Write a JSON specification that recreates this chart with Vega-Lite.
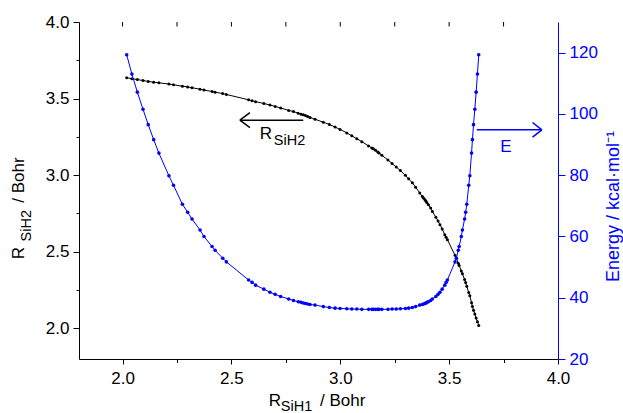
{
  "$schema": "https://vega.github.io/schema/vega-lite/v6.json",
  "width": 479,
  "height": 337,
  "autosize": {"type": "none"},
  "padding": {"left": 79, "top": 22, "right": 65, "bottom": 54},
  "config": {
    "view": {"stroke": null},
    "font": "Liberation Sans",
    "axis": {"grid": false, "labelFont": "Liberation Sans", "labelFontSize": 17, "labelColor": "black", "tickColor": "black", "domainColor": "black", "tickWidth": 1, "domainWidth": 1, "labelFlush": false, "labelOverlap": false, "labelBound": false, "titleFont": "Liberation Sans", "titleFontWeight": "normal"}
  },
  "datasets": {
    "path": [
      {"i": 1, "R1": 2.019, "R2": 3.636, "E": 119.3},
      {"i": 2, "R1": 2.043, "R2": 3.630, "E": 113.0},
      {"i": 3, "R1": 2.068, "R2": 3.624, "E": 107.1},
      {"i": 4, "R1": 2.094, "R2": 3.618, "E": 101.5},
      {"i": 5, "R1": 2.118, "R2": 3.612, "E": 96.5},
      {"i": 6, "R1": 2.143, "R2": 3.607, "E": 91.6},
      {"i": 7, "R1": 2.167, "R2": 3.603, "E": 87.2},
      {"i": 8, "R1": 2.213, "R2": 3.595, "E": 79.8},
      {"i": 9, "R1": 2.234, "R2": 3.590, "E": 76.7},
      {"i": 10, "R1": 2.275, "R2": 3.581, "E": 70.5},
      {"i": 11, "R1": 2.299, "R2": 3.576, "E": 67.9},
      {"i": 12, "R1": 2.319, "R2": 3.571, "E": 65.7},
      {"i": 13, "R1": 2.356, "R2": 3.561, "E": 62.1},
      {"i": 14, "R1": 2.374, "R2": 3.556, "E": 60.0},
      {"i": 15, "R1": 2.411, "R2": 3.546, "E": 56.7},
      {"i": 16, "R1": 2.425, "R2": 3.542, "E": 55.5},
      {"i": 17, "R1": 2.460, "R2": 3.533, "E": 52.9},
      {"i": 18, "R1": 2.477, "R2": 3.527, "E": 51.7},
      {"i": 19, "R1": 2.579, "R2": 3.492, "E": 45.8},
      {"i": 20, "R1": 2.595, "R2": 3.486, "E": 45.0},
      {"i": 21, "R1": 2.611, "R2": 3.480, "E": 44.1},
      {"i": 22, "R1": 2.649, "R2": 3.468, "E": 42.8},
      {"i": 23, "R1": 2.677, "R2": 3.458, "E": 41.8},
      {"i": 24, "R1": 2.701, "R2": 3.449, "E": 41.1},
      {"i": 25, "R1": 2.726, "R2": 3.439, "E": 40.4},
      {"i": 26, "R1": 2.763, "R2": 3.423, "E": 39.6},
      {"i": 27, "R1": 2.785, "R2": 3.415, "E": 39.1},
      {"i": 28, "R1": 2.807, "R2": 3.405, "E": 38.7},
      {"i": 29, "R1": 2.820, "R2": 3.398, "E": 38.5},
      {"i": 30, "R1": 2.830, "R2": 3.394, "E": 38.3},
      {"i": 31, "R1": 2.840, "R2": 3.389, "E": 38.1},
      {"i": 32, "R1": 2.850, "R2": 3.383, "E": 37.95},
      {"i": 33, "R1": 2.861, "R2": 3.377, "E": 37.8},
      {"i": 34, "R1": 2.884, "R2": 3.365, "E": 37.6},
      {"i": 35, "R1": 2.922, "R2": 3.346, "E": 37.1},
      {"i": 36, "R1": 2.950, "R2": 3.331, "E": 36.8},
      {"i": 37, "R1": 2.976, "R2": 3.314, "E": 36.6},
      {"i": 38, "R1": 2.999, "R2": 3.299, "E": 36.5},
      {"i": 39, "R1": 3.030, "R2": 3.276, "E": 36.4},
      {"i": 40, "R1": 3.053, "R2": 3.257, "E": 36.3},
      {"i": 41, "R1": 3.076, "R2": 3.238, "E": 36.3},
      {"i": 42, "R1": 3.099, "R2": 3.219, "E": 36.2},
      {"i": 43, "R1": 3.130, "R2": 3.191, "E": 36.2},
      {"i": 44, "R1": 3.145, "R2": 3.178, "E": 36.2},
      {"i": 45, "R1": 3.152, "R2": 3.172, "E": 36.2},
      {"i": 46, "R1": 3.162, "R2": 3.162, "E": 36.2},
      {"i": 47, "R1": 3.172, "R2": 3.152, "E": 36.2},
      {"i": 48, "R1": 3.178, "R2": 3.145, "E": 36.2},
      {"i": 49, "R1": 3.191, "R2": 3.130, "E": 36.2},
      {"i": 50, "R1": 3.219, "R2": 3.099, "E": 36.2},
      {"i": 51, "R1": 3.238, "R2": 3.076, "E": 36.3},
      {"i": 52, "R1": 3.257, "R2": 3.053, "E": 36.3},
      {"i": 53, "R1": 3.276, "R2": 3.030, "E": 36.4},
      {"i": 54, "R1": 3.299, "R2": 2.999, "E": 36.5},
      {"i": 55, "R1": 3.314, "R2": 2.976, "E": 36.6},
      {"i": 56, "R1": 3.331, "R2": 2.950, "E": 36.8},
      {"i": 57, "R1": 3.346, "R2": 2.922, "E": 37.1},
      {"i": 58, "R1": 3.365, "R2": 2.884, "E": 37.6},
      {"i": 59, "R1": 3.377, "R2": 2.861, "E": 37.8},
      {"i": 60, "R1": 3.383, "R2": 2.850, "E": 37.95},
      {"i": 61, "R1": 3.389, "R2": 2.840, "E": 38.1},
      {"i": 62, "R1": 3.394, "R2": 2.830, "E": 38.3},
      {"i": 63, "R1": 3.398, "R2": 2.820, "E": 38.5},
      {"i": 64, "R1": 3.405, "R2": 2.807, "E": 38.7},
      {"i": 65, "R1": 3.415, "R2": 2.785, "E": 39.1},
      {"i": 66, "R1": 3.423, "R2": 2.763, "E": 39.6},
      {"i": 67, "R1": 3.439, "R2": 2.726, "E": 40.4},
      {"i": 68, "R1": 3.449, "R2": 2.701, "E": 41.1},
      {"i": 69, "R1": 3.458, "R2": 2.677, "E": 41.8},
      {"i": 70, "R1": 3.468, "R2": 2.649, "E": 42.8},
      {"i": 71, "R1": 3.480, "R2": 2.611, "E": 44.1},
      {"i": 72, "R1": 3.486, "R2": 2.595, "E": 45.0},
      {"i": 73, "R1": 3.492, "R2": 2.579, "E": 45.8},
      {"i": 74, "R1": 3.527, "R2": 2.477, "E": 51.7},
      {"i": 75, "R1": 3.533, "R2": 2.460, "E": 52.9},
      {"i": 76, "R1": 3.542, "R2": 2.425, "E": 55.5},
      {"i": 77, "R1": 3.546, "R2": 2.411, "E": 56.7},
      {"i": 78, "R1": 3.556, "R2": 2.374, "E": 60.0},
      {"i": 79, "R1": 3.561, "R2": 2.356, "E": 62.1},
      {"i": 80, "R1": 3.571, "R2": 2.319, "E": 65.7},
      {"i": 81, "R1": 3.576, "R2": 2.299, "E": 67.9},
      {"i": 82, "R1": 3.581, "R2": 2.275, "E": 70.5},
      {"i": 83, "R1": 3.590, "R2": 2.234, "E": 76.7},
      {"i": 84, "R1": 3.595, "R2": 2.213, "E": 79.8},
      {"i": 85, "R1": 3.603, "R2": 2.167, "E": 87.2},
      {"i": 86, "R1": 3.607, "R2": 2.143, "E": 91.6},
      {"i": 87, "R1": 3.612, "R2": 2.118, "E": 96.5},
      {"i": 88, "R1": 3.618, "R2": 2.094, "E": 101.5},
      {"i": 89, "R1": 3.624, "R2": 2.068, "E": 107.1},
      {"i": 90, "R1": 3.630, "R2": 2.043, "E": 113.0},
      {"i": 91, "R1": 3.636, "R2": 2.019, "E": 119.3}
    ]
  },
  "resolve": {"scale": {"y": "independent"}},
  "layer": [
    {
      "layer": [
        {
          "data": {"name": "path"},
          "mark": {"type": "line", "color": "black", "strokeWidth": 1, "point": {"filled": true, "size": 9, "color": "black"}},
          "encoding": {
            "x": {"field": "R1", "type": "quantitative", "scale": {"domain": [1.8, 4.0], "nice": false, "zero": false},
                  "axis": {"orient": "bottom", "values": [2.0, 2.25, 2.5, 2.75, 3.0, 3.25, 3.5, 3.75, 4.0],
                           "labelExpr": "abs(datum.value*2 - round(datum.value*2)) < 0.01 ? format(datum.value, '.1f') : ''",
                           "tickSize": {"condition": {"test": "abs(datum.value*2 - round(datum.value*2)) < 0.01", "value": 5}, "value": 3.5},
                           "labelPadding": 6, "title": null}},
            "y": {"field": "R2", "type": "quantitative", "scale": {"domain": [1.8, 4.0], "nice": false, "zero": false},
                  "axis": {"orient": "left", "values": [2.0, 2.25, 2.5, 2.75, 3.0, 3.25, 3.5, 3.75, 4.0],
                           "labelExpr": "abs(datum.value*2 - round(datum.value*2)) < 0.01 ? format(datum.value, '.1f') : ''",
                           "tickSize": {"condition": {"test": "abs(datum.value*2 - round(datum.value*2)) < 0.01", "value": 6}, "value": 3},
                           "labelPadding": 4, "title": null}},
            "order": {"field": "i", "type": "quantitative"}
          }
        },
        {
          "mark": {"type": "rule", "color": "black", "strokeWidth": 1},
          "encoding": {
            "x": {"datum": 1.8, "type": "quantitative"},
            "x2": {"datum": 4.0},
            "y": {"datum": 4.0, "type": "quantitative"}
          }
        },
        {
          "data": {"values": [{"v": 2.0}, {"v": 2.25}, {"v": 2.5}, {"v": 2.75}, {"v": 3.0}, {"v": 3.25}, {"v": 3.5}, {"v": 3.75}]},
          "mark": {"type": "tick", "orient": "vertical", "color": "black", "size": 4.5, "thickness": 1, "yOffset": 2.25, "opacity": 1},
          "encoding": {
            "x": {"field": "v", "type": "quantitative"},
            "y": {"datum": 4.0, "type": "quantitative"}
          }
        },
        {
          "data": {"values": [
            {"a": 2.539, "b": 2.83, "y": 3.359, "y2": 3.359},
            {"a": 2.539, "b": 2.585, "y": 3.359, "y2": 3.408},
            {"a": 2.539, "b": 2.585, "y": 3.359, "y2": 3.310}
          ]},
          "mark": {"type": "rule", "color": "black", "strokeWidth": 1.5},
          "encoding": {
            "x": {"field": "a", "type": "quantitative"},
            "x2": {"field": "b"},
            "y": {"field": "y", "type": "quantitative"},
            "y2": {"field": "y2"}
          }
        },
        {
          "data": {"values": [
            {"t": "R", "x": 2.6307, "y": 3.2332},
            {"t": "R", "x": 2.672, "y": 1.4915},
            {"t": "/ Bohr", "x": 2.907, "y": 1.4915}
          ]},
          "mark": {"type": "text", "fontSize": 17, "font": "Liberation Sans", "align": "left", "baseline": "alphabetic", "color": "black"},
          "encoding": {
            "x": {"field": "x", "type": "quantitative"},
            "y": {"field": "y", "type": "quantitative"},
            "text": {"field": "t"}
          }
        },
        {
          "data": {"values": [
            {"t": "SiH2", "x": 2.695, "y": 3.197},
            {"t": "SiH1", "x": 2.727, "y": 1.459}
          ]},
          "mark": {"type": "text", "fontSize": 14.5, "font": "Liberation Sans", "align": "left", "baseline": "alphabetic", "color": "black"},
          "encoding": {
            "x": {"field": "x", "type": "quantitative"},
            "y": {"field": "y", "type": "quantitative"},
            "text": {"field": "t"}
          }
        },
        {
          "data": {"values": [
            {"t": "R", "x": 1.5492, "y": 2.4504},
            {"t": "/ Bohr", "x": 1.5492, "y": 2.82}
          ]},
          "mark": {"type": "text", "fontSize": 17, "font": "Liberation Sans", "align": "left", "baseline": "alphabetic", "angle": 270, "color": "black"},
          "encoding": {
            "x": {"field": "x", "type": "quantitative"},
            "y": {"field": "y", "type": "quantitative"},
            "text": {"field": "t"}
          }
        },
        {
          "data": {"values": [
            {"t": "SiH2", "x": 1.5791, "y": 2.5678}
          ]},
          "mark": {"type": "text", "fontSize": 14.5, "font": "Liberation Sans", "align": "left", "baseline": "alphabetic", "angle": 270, "color": "black"},
          "encoding": {
            "x": {"field": "x", "type": "quantitative"},
            "y": {"field": "y", "type": "quantitative"},
            "text": {"field": "t"}
          }
        }
      ]
    },
    {
      "layer": [
        {
          "data": {"name": "path"},
          "mark": {"type": "line", "color": "#0000ff", "strokeWidth": 1, "point": {"filled": true, "size": 13, "color": "#0000ff"}},
          "encoding": {
            "x": {"field": "R1", "type": "quantitative", "scale": {"domain": [1.8, 4.0], "nice": false, "zero": false}},
            "y": {"field": "E", "type": "quantitative", "scale": {"domain": [20, 130], "nice": false, "zero": false},
                  "axis": {"orient": "right", "values": [20, 30, 40, 50, 60, 70, 80, 90, 100, 110, 120],
                           "labelExpr": "datum.value % 20 == 0 ? datum.label : ''",
                           "tickSize": {"condition": {"test": "datum.value % 20 == 0", "value": 7}, "value": 4},
                           "labelPadding": 4,
                           "labelColor": "#0000ff", "tickColor": "#0000ff", "domainColor": "#0000ff",
                           "title": null}},
            "order": {"field": "i", "type": "quantitative"}
          }
        },
        {
          "data": {"values": [
            {"a": 3.627, "b": 3.926, "e": 94.8, "e2": 94.8},
            {"a": 3.883, "b": 3.926, "e": 97.2, "e2": 94.8},
            {"a": 3.883, "b": 3.926, "e": 92.4, "e2": 94.8}
          ]},
          "mark": {"type": "rule", "color": "#0000ff", "strokeWidth": 1.5},
          "encoding": {
            "x": {"field": "a", "type": "quantitative"},
            "x2": {"field": "b"},
            "y": {"field": "e", "type": "quantitative"},
            "y2": {"field": "e2"}
          }
        },
        {
          "data": {"values": [{"t": "E", "x": 3.735, "e": 87.6}]},
          "mark": {"type": "text", "fontSize": 17, "font": "Liberation Sans", "align": "left", "baseline": "alphabetic", "color": "#0000ff"},
          "encoding": {
            "x": {"field": "x", "type": "quantitative"},
            "y": {"field": "e", "type": "quantitative"},
            "text": {"field": "t"}
          }
        },
        {
          "data": {"values": [{"t": "Energy / kcal·mol⁻¹", "x": 4.28, "e": 45.1}]},
          "mark": {"type": "text", "fontSize": 18, "font": "Liberation Sans", "align": "left", "baseline": "alphabetic", "angle": 270, "color": "#0000ff"},
          "encoding": {
            "x": {"field": "x", "type": "quantitative"},
            "y": {"field": "e", "type": "quantitative"},
            "text": {"field": "t"}
          }
        }
      ]
    }
  ]
}
